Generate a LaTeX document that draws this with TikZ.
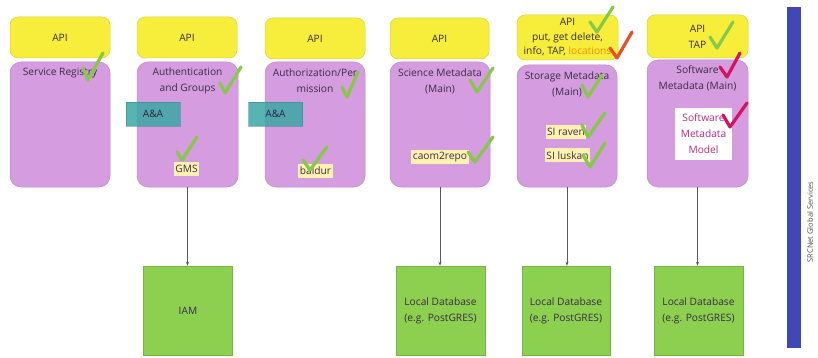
\documentclass[tikz,border=0pt]{standalone}
\usepackage{fontspec}
\setmainfont{Open Sans}
\usetikzlibrary{arrows.meta}
\definecolor{apiY}{HTML}{F7EE3C}
\definecolor{apiYb}{HTML}{D9CF3A}
\definecolor{purp}{HTML}{D69CE0}
\definecolor{purpb}{HTML}{BF86C9}
\definecolor{tealc}{HTML}{3AA8A6}
\definecolor{grn}{HTML}{8DCF4F}
\definecolor{grnb}{HTML}{78B244}
\definecolor{bar}{HTML}{3F48B3}
\definecolor{lab}{HTML}{FFF2B0}
\definecolor{chkg}{HTML}{86C94A}
\definecolor{chkr}{HTML}{E4502A}
\definecolor{chkm}{HTML}{D2145E}
\definecolor{txt}{HTML}{3A2C48}
\definecolor{mag}{HTML}{B02C86}
\tikzset{
  x=1pt, y=-1pt,
  fnt/.style={font=\fontsize{10.2}{16}\selectfont},
  apibox/.style={draw=apiYb, fill=apiY, rounded corners=8pt, minimum width=100pt, minimum height=41pt, fnt, text=txt, align=center, line width=0.5pt},
  svcbox/.style={draw=purpb, fill=purp, rounded corners=11pt, minimum width=100pt, line width=0.5pt},
  svctext/.style={fnt, text=txt, align=center, inner sep=0pt},
  aabox/.style={fill=tealc, fill opacity=0.85, text opacity=1, draw=tealc!80!black, draw opacity=0.5, minimum width=54pt, minimum height=24pt, fnt, text=txt!80!black},
  labbox/.style={fill=lab, inner sep=1.5pt, fnt, text=txt, minimum height=14pt},
  dbbox/.style={draw=grnb, fill=grn, minimum width=89pt, minimum height=89pt, fnt, text=txt, align=center, line width=0.5pt},
  arr/.style={draw=black!65, line width=0.6pt, -{Stealth[length=4pt,width=3pt]}},
  gchk/.style={draw=chkg, line width=3.2pt, line cap=round, line join=round},
  rchk/.style={draw=chkr, line width=3.2pt, line cap=round, line join=round},
  mchk/.style={draw=chkm, line width=3.2pt, line cap=round, line join=round},
}
\begin{document}
\begin{tikzpicture}
\useasboundingbox (0,0) rectangle (818,358);
\fill[white] (0,0) rectangle (818,358);

% service boxes
\node[svcbox, minimum height=125pt] (p1) at (60,124.5) {};
\node[svcbox, minimum height=125pt, minimum width=101pt] (p2) at (187.5,124.5) {};
\node[svcbox, minimum height=125pt] (p3) at (315,124.5) {};
\node[svcbox, minimum height=125pt] (p4) at (440,124.5) {};
\node[svcbox, minimum height=122pt] (p5) at (567,126) {};
\node[svcbox, minimum height=127pt, minimum width=101pt] (p6) at (697.5,123.5) {};

% API boxes
\node[apibox] (a1) at (60,37.5) {API};
\node[apibox] (a2) at (187,37.5) {API};
\node[apibox] (a3) at (315,38.5) {API};
\node[apibox, minimum width=99pt] (a4) at (439.5,38.5) {API};
\node[apibox, minimum width=101pt, minimum height=45pt, font=\fontsize{10.2}{14.5}\selectfont, inner sep=0pt] (a5) at (567.5,37.5) {API\\put, get delete,\\info, TAP, \textcolor{orange!90!yellow}{locations}};
\node[apibox, minimum width=101pt, minimum height=43pt] (a6) at (697.5,36.5) {API\\TAP};

% service texts
\node[svctext] (t1) at (60,73) {Service Registry};
\node[svctext] (t2) at (187.5,81) {Authentication\\and Groups};
\node[svctext] (t3) at (315,81) {Authorization/Per\\mission};
\node[svctext] (t4) at (440,81) {Science Metadata\\(Main)};
\node[svctext] (t5) at (567,84) {Storage Metadata\\(Main)};
\node[svctext] (t6) at (697.5,78) {Software\\Metadata (Main)};

% A&A boxes
\node[aabox] (aa1) at (153,114) {A\&A};
\node[aabox] (aa2) at (275.5,114) {A\&A};

% labels
\node[labbox] (gms) at (186.5,169) {GMS};
\node[labbox] (bal) at (315.5,171) {baldur};
\node[labbox] (cao) at (440,157) {caom2repo};
\node[labbox] (rav) at (566,132) {SI raven};
\node[labbox] (lus) at (567.5,155.5) {SI luskan};
\node[fill=white, minimum width=57pt, minimum height=52pt, fnt, text=mag, align=center, inner sep=1pt] (smm) at (703.5,134) {Software\\Metadata\\Model};

% databases
\node[dbbox] (iam) at (188,310.5) {IAM};
\node[dbbox] (db1) at (440.5,310.5) {Local Database\\(e.g. PostGRES)};
\node[dbbox, minimum width=88pt] (db2) at (566,310.5) {Local Database\\(e.g. PostGRES)};
\node[dbbox] (db3) at (698.5,310.5) {Local Database\\(e.g. PostGRES)};

% connectors
\draw[arr] (p2.south) -- (p2.south |- iam.north);
\draw[arr] (p4.south) -- (p4.south |- db1.north);
\draw[arr] (p5.south) -- (p5.south |- db2.north);
\draw[arr] (p6.south) -- (p6.south |- db3.north);

% side bar
\node[fill=bar, minimum width=14pt, minimum height=341pt, inner sep=0pt] (sb) at (794,177.5) {};
\node[rotate=90, font=\fontsize{7.5}{9}\selectfont, text=black!70] (sbt) at (810,222) {SRCNet Global Services};

% check marks
\draw[gchk] (83,68) -- (88,80) -- (103,53);
\draw[gchk] (220,83) -- (225,93) -- (241,67);
\draw[gchk] (177,152) -- (182,160) -- (197,137);
\draw[gchk] (342,87) -- (347,97) -- (358,72);
\draw[gchk] (303,160) -- (310,170) -- (327,147);
\draw[gchk] (470,80) -- (477,92) -- (493,68);
\draw[gchk] (468,152) -- (475,162) -- (493,137);
\draw[gchk] (590,22) -- (597,32) -- (613,7);
\draw[rchk] (610,48) -- (617,58) -- (632,32);
\draw[gchk] (582,85) -- (588,97) -- (602,75);
\draw[gchk] (582,125) -- (588,137) -- (605,113);
\draw[gchk] (583,155) -- (590,167) -- (605,143);
\draw[gchk] (710,37) -- (717,48) -- (733,22);
\draw[mchk] (720,67) -- (727,77) -- (740,53);
\draw[mchk] (723,115) -- (730,127) -- (747,103);
\end{tikzpicture}
\end{document}
